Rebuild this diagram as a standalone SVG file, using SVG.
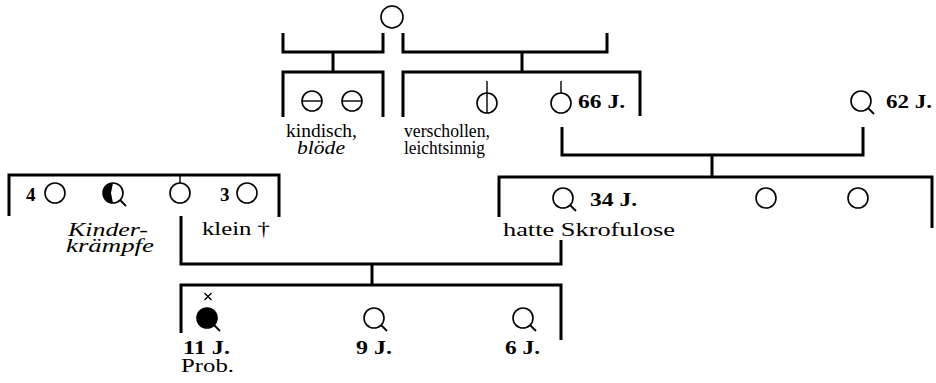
<svg xmlns="http://www.w3.org/2000/svg" width="936" height="383" viewBox="0 0 936 383">
  <style>
    .ln { fill: none; stroke: #000; stroke-width: 3; stroke-linecap: butt; stroke-linejoin: miter; }
    .p { fill: #fff; stroke: #000; stroke-width: 1.6; }
    .pf { fill: #000; stroke: #000; stroke-width: 1.6; }
    .t { stroke: #000; stroke-width: 1.8; fill: none; }
    .thin { stroke: #000; stroke-width: 1.4; fill: none; }
    text { font-family: "Liberation Serif", "DejaVu Serif", serif; font-size: 19px; fill: #000; }
    .b { font-weight: bold; }
    .i { font-style: italic; }
  </style>
  <rect width="936" height="383" fill="#fff"/>

  <!-- sibship brackets and descent lines -->
  <g id="connectors">
    <path class="ln" d="M283 33 V52 H383 V33"/>
    <path class="ln" d="M403 33 V52 H607 V33"/>
    <path class="ln" d="M333 52 V72"/>
    <path class="ln" d="M522 52 V72"/>
    <path class="ln" d="M283 117 V72 H383 V117"/>
    <path class="ln" d="M403 117 V72 H640 V116"/>
    <path class="ln" d="M562 127 V155 H863 V127"/>
    <path class="ln" d="M712 155 V177"/>
    <path class="ln" d="M499 217 V177 H932 V228"/>
    <path class="ln" d="M9 216 V175 H279 V217"/>
    <path class="ln" d="M181 216 V264 H561 V240"/>
    <path class="ln" d="M372 264 V285"/>
    <path class="ln" d="M181 333 V285 H561 V340"/>
  </g>

  <!-- generation I -->
  <g id="ancestor">
    <circle class="p" cx="392" cy="17" r="11"/>
  </g>

  <!-- generation II, left sibship -->
  <g id="sib-kindisch-1">
    <circle class="p" cx="312" cy="101" r="10"/>
    <line class="thin" x1="302" y1="101" x2="322" y2="101"/>
  </g>
  <g id="sib-kindisch-2">
    <circle class="p" cx="352" cy="101" r="10"/>
    <line class="thin" x1="342" y1="101" x2="362" y2="101"/>
  </g>
  <g id="label-kindisch">
    <text x="286" y="137" textLength="71" lengthAdjust="spacingAndGlyphs">kindisch,</text>
    <text class="i" x="297" y="154" textLength="48" lengthAdjust="spacingAndGlyphs">blöde</text>
  </g>

  <!-- generation II, right sibship -->
  <g id="sib-verschollen">
    <circle class="p" cx="487" cy="103" r="10"/>
    <line class="thin" x1="487" y1="81" x2="487" y2="113"/>
  </g>
  <g id="label-verschollen">
    <text x="404" y="137" textLength="86" lengthAdjust="spacingAndGlyphs">verschollen,</text>
    <text x="404" y="154" textLength="81" lengthAdjust="spacingAndGlyphs">leichtsinnig</text>
  </g>
  <g id="grandmother">
    <line class="thin" x1="561" y1="81" x2="561" y2="93"/>
    <circle class="p" cx="561" cy="103" r="10"/>
    <text class="b" x="578" y="108" textLength="47" lengthAdjust="spacingAndGlyphs">66 J.</text>
  </g>
  <g id="grandfather">
    <circle class="p" cx="861" cy="101" r="10"/>
    <line class="t" x1="868" y1="108" x2="874" y2="114"/>
    <text class="b" x="886" y="108" textLength="46" lengthAdjust="spacingAndGlyphs">62 J.</text>
  </g>

  <!-- generation III, maternal sibship -->
  <g id="sib-4">
    <text class="b" x="26" y="201">4</text>
    <circle class="p" cx="55" cy="193" r="10"/>
  </g>
  <g id="sib-kinderkraempfe">
    <circle class="p" cx="113" cy="193" r="10"/>
    <path d="M113 183 A10 10 0 0 0 113 203 L111 193 Z" fill="#000"/>
    <line class="t" x1="120" y1="200" x2="126" y2="206"/>
    <text class="i" x="68" y="236" textLength="80" lengthAdjust="spacingAndGlyphs">Kinder-</text>
    <text class="i" x="66" y="252" textLength="88" lengthAdjust="spacingAndGlyphs">krämpfe</text>
  </g>
  <g id="mother">
    <line class="thin" x1="180" y1="175" x2="180" y2="183"/>
    <circle class="p" cx="180" cy="193" r="10"/>
  </g>
  <g id="sib-3">
    <text class="b" x="220" y="201">3</text>
    <circle class="p" cx="247" cy="193" r="10"/>
    <text x="202" y="235" textLength="68" lengthAdjust="spacingAndGlyphs">klein †</text>
  </g>

  <!-- generation III, paternal sibship -->
  <g id="father">
    <circle class="p" cx="563" cy="198" r="10"/>
    <line class="t" x1="570" y1="205" x2="576" y2="211"/>
    <text class="b" x="590" y="206" textLength="47" lengthAdjust="spacingAndGlyphs">34 J.</text>
    <text x="503" y="236" textLength="172" lengthAdjust="spacingAndGlyphs">hatte  Skrofulose</text>
  </g>
  <g id="sib-paternal-2">
    <circle class="p" cx="766" cy="198" r="10"/>
  </g>
  <g id="sib-paternal-3">
    <circle class="p" cx="858" cy="198" r="10"/>
  </g>

  <!-- generation IV -->
  <g id="proband">
    <path class="thin" d="M204.5 293 L211.5 300 M211.5 293 L204.5 300" stroke-width="2.2"/>
    <circle class="pf" cx="207" cy="318" r="10"/>
    <line class="t" x1="214" y1="325" x2="220" y2="331"/>
    <text class="b" x="183" y="354" textLength="47" lengthAdjust="spacingAndGlyphs">11 J.</text>
    <text x="181" y="372" textLength="53" lengthAdjust="spacingAndGlyphs">Prob.</text>
  </g>
  <g id="child-9">
    <circle class="p" cx="374" cy="318" r="10"/>
    <line class="t" x1="381" y1="325" x2="387" y2="331"/>
    <text class="b" x="356" y="354" textLength="36" lengthAdjust="spacingAndGlyphs">9 J.</text>
  </g>
  <g id="child-6">
    <circle class="p" cx="523" cy="318" r="10"/>
    <line class="t" x1="530" y1="325" x2="536" y2="331"/>
    <text class="b" x="505" y="354" textLength="35" lengthAdjust="spacingAndGlyphs">6 J.</text>
  </g>
</svg>
